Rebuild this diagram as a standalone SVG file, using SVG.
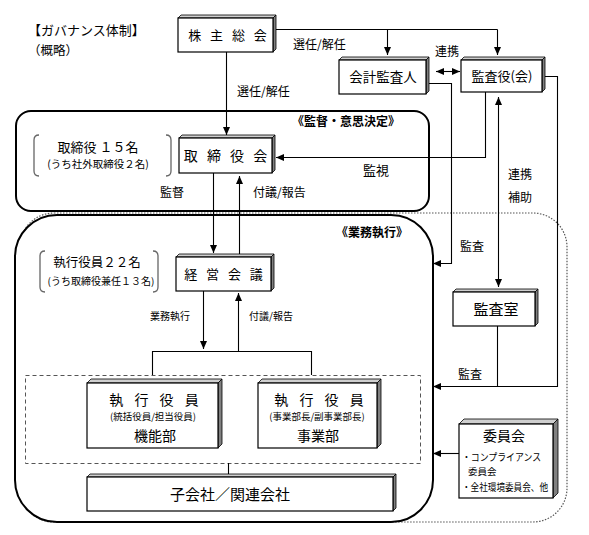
<svg xmlns="http://www.w3.org/2000/svg" width="589" height="535" viewBox="0 0 589 535">
<style>
text{font-family:"Noto Sans CJK JP","Noto Sans",sans-serif;fill:#000}
.ln{stroke:#000;stroke-width:1.1;fill:none}
.front{fill:#fff;stroke:#000;stroke-width:1.2}
.top{fill:#cfcfcf;stroke:#000;stroke-width:0.8}
.side{fill:#808080;stroke:#000;stroke-width:0.8}
.br{fill:none;stroke:#666;stroke-width:1.3}
.lbl{font-size:12px}
.title{font-size:12px;font-weight:bold}
</style>
<defs>
<marker id="ah" markerUnits="userSpaceOnUse" markerWidth="9" markerHeight="8" refX="8" refY="3.5" orient="auto-start-reverse">
<path d="M0,0 L8,3.5 L0,7 z" fill="#000"/>
</marker>
</defs>
<rect width="589" height="535" fill="#fff"/>

<!-- frames -->
<g id="frames">
<rect x="20" y="213" width="547" height="309" rx="34" fill="none" stroke="#555" stroke-width="1.2" stroke-dasharray="1.5,1.5"/>
<rect x="16" y="111" width="413" height="100" rx="15" fill="#fff" stroke="#000" stroke-width="2"/>
<rect x="15" y="215" width="418" height="307" rx="42" fill="#fff" stroke="#000" stroke-width="2"/>
<rect x="25.5" y="375.5" width="395" height="88" fill="none" stroke="#555" stroke-width="1" stroke-dasharray="4,3"/>
<text class="title" x="346" y="126" text-anchor="middle">《監督・意思決定》</text>
<text class="title" x="372" y="237" text-anchor="middle">《業務執行》</text>
</g>

<g id="heading">
<text x="28" y="35" font-size="13">【ガバナンス体制】</text>
<text x="28" y="55" font-size="12.5">（概略）</text>
</g>

<!-- connectors -->
<g id="connectors">
<path class="ln" d="M275,29.5 H497.5"/>
<path class="ln" d="M387.5,29.5 V55" marker-end="url(#ah)"/>
<path class="ln" d="M497.5,29.5 V55" marker-end="url(#ah)"/>
<path class="ln" d="M226.5,52 V135" marker-end="url(#ah)"/>
<path class="ln" d="M436,71.5 H460" marker-start="url(#ah)" marker-end="url(#ah)"/>
<path class="ln" d="M485.5,92 V157.5 H276" marker-end="url(#ah)"/>
<path class="ln" d="M428,83.5 H451.5 V263.5 H433" marker-end="url(#ah)"/>
<path class="ln" d="M498.5,97 V287" marker-start="url(#ah)" marker-end="url(#ah)"/>
<path class="ln" d="M544,76.5 H557.5 V386.5 H433" marker-end="url(#ah)"/>
<path class="ln" d="M497.5,326 V386.5"/>
<path class="ln" d="M459,453.5 H433" marker-end="url(#ah)"/>
<path class="ln" d="M213.5,173 V253" marker-end="url(#ah)"/>
<path class="ln" d="M239.5,254 V176" marker-end="url(#ah)"/>
<path class="ln" d="M203.5,291 V349" marker-end="url(#ah)"/>
<path class="ln" d="M238.5,351 V293" marker-end="url(#ah)"/>
<path class="ln" d="M152.5,375 V351.5 H311.5 V375"/>
<path class="ln" d="M228.5,463 V474"/>
<text class="lbl" x="293" y="49">選任/解任</text>
<text class="lbl" x="237" y="96">選任/解任</text>
<text class="lbl" x="435" y="56">連携</text>
<text x="363" y="175" font-size="13">監視</text>
<text class="lbl" x="160" y="197">監督</text>
<text class="lbl" x="253" y="197">付議/報告</text>
<text class="lbl" x="508" y="179">連携</text>
<text class="lbl" x="508" y="202">補助</text>
<text class="lbl" x="460" y="251">監査</text>
<text class="lbl" x="458" y="379">監査</text>
<text x="150" y="320" font-size="10">業務執行</text>
<text x="249" y="320" font-size="10">付議/報告</text>
</g>

<!-- nodes -->
<g id="kabunushi">
<polygon class="top" points="178,18 181,15 276,15 273,18"/>
<polygon class="side" points="273,18 276,15 276,49 273,52"/>
<rect class="front" x="178" y="18" width="95" height="34"/>
<text x="229" y="40" font-size="13" text-anchor="middle" letter-spacing="3">株 主 総 会</text>
</g>

<g id="kaikei">
<polygon class="top" points="339,60 342,57 429,57 426,60"/>
<polygon class="side" points="426,60 429,57 429,91 426,94"/>
<rect class="front" x="339" y="60" width="87" height="34"/>
<text x="383" y="82" font-size="13.5" text-anchor="middle">会計監査人</text>
</g>

<g id="kansayaku">
<polygon class="top" points="461,60 464,57 545,57 542,60"/>
<polygon class="side" points="542,60 545,57 545,89 542,92"/>
<rect class="front" x="461" y="60" width="81" height="32"/>
<text x="502" y="81" font-size="13" text-anchor="middle">監査役(会)</text>
</g>

<g id="torishimariyaku-note">
<path class="br" d="M39,135 Q34,135 34,140 V171 Q34,176 39,176"/>
<path class="br" d="M166,135 Q171,135 171,140 V171 Q171,176 166,176"/>
<text x="98" y="152" font-size="13" text-anchor="middle">取締役 １５名</text>
<text x="98" y="168" font-size="10.5" text-anchor="middle">(うち社外取締役２名)</text>
</g>

<g id="torishimariyakukai">
<polygon class="top" points="179,138 182,135 275,135 272,138"/>
<polygon class="side" points="272,138 275,135 275,170 272,173"/>
<rect class="front" x="179" y="138" width="93" height="35"/>
<text x="227" y="161" font-size="14" text-anchor="middle" letter-spacing="3">取 締 役 会</text>
</g>

<g id="shikkou-note">
<path class="br" d="M45,251 Q40,251 40,256 V287 Q40,292 45,292"/>
<path class="br" d="M153,251 Q158,251 158,256 V287 Q158,292 153,292"/>
<text x="97" y="267" font-size="12.5" text-anchor="middle">執行役員２２名</text>
<text x="101" y="285" font-size="10" text-anchor="middle">(うち取締役兼任１３名)</text>
</g>

<g id="keiei">
<polygon class="top" points="176,257 179,254 274,254 271,257"/>
<polygon class="side" points="271,257 274,254 274,288 271,291"/>
<rect class="front" x="176" y="257" width="95" height="34"/>
<text x="225" y="279" font-size="13" text-anchor="middle" letter-spacing="3">経 営 会 議</text>
</g>

<g id="kansashitsu">
<polygon class="top" points="453,292 456,289 538,289 535,292"/>
<polygon class="side" points="535,292 538,289 538,323 535,326"/>
<rect class="front" x="453" y="292" width="82" height="34"/>
<text x="496" y="315" font-size="15" text-anchor="middle">監査室</text>
</g>

<g id="shikkou1">
<polygon class="top" points="87,383 91,379 222,379 218,383"/>
<polygon class="side" points="218,383 222,379 222,444 218,448"/>
<rect class="front" x="87" y="383" width="131" height="65"/>
<text x="156" y="405" font-size="14" text-anchor="middle" letter-spacing="4">執 行 役 員</text>
<text x="153" y="420" font-size="9.5" text-anchor="middle">(統括役員/担当役員)</text>
<text x="155" y="441" font-size="14" text-anchor="middle">機能部</text>
</g>

<g id="shikkou2">
<polygon class="top" points="258,383 262,379 381,379 377,383"/>
<polygon class="side" points="377,383 381,379 381,444 377,448"/>
<rect class="front" x="258" y="383" width="119" height="65"/>
<text x="321" y="405" font-size="14" text-anchor="middle" letter-spacing="4">執 行 役 員</text>
<text x="317" y="420" font-size="9.5" text-anchor="middle">(事業部長/副事業部長)</text>
<text x="318" y="441" font-size="14" text-anchor="middle">事業部</text>
</g>

<g id="kogaisha">
<polygon class="top" points="87,477 90,474 396,474 393,477"/>
<polygon class="side" points="393,477 396,474 396,508 393,511"/>
<rect class="front" x="87" y="477" width="306" height="34"/>
<text x="230" y="500" font-size="15" text-anchor="middle">子会社／関連会社</text>
</g>

<g id="iinkai">
<polygon class="top" points="459,424 464,419 558,419 553,424"/>
<polygon class="side" points="553,424 558,419 558,493 553,498"/>
<rect class="front" x="459" y="424" width="94" height="74"/>
<text x="504" y="441" font-size="14" text-anchor="middle">委員会</text>
<text x="462" y="461" font-size="10" textLength="79" lengthAdjust="spacingAndGlyphs">・コンプライアンス</text>
<text x="468" y="475" font-size="9.5">委員会</text>
<text x="462" y="491" font-size="10" textLength="86" lengthAdjust="spacingAndGlyphs">・全社環境委員会、他</text>
</g>
</svg>
